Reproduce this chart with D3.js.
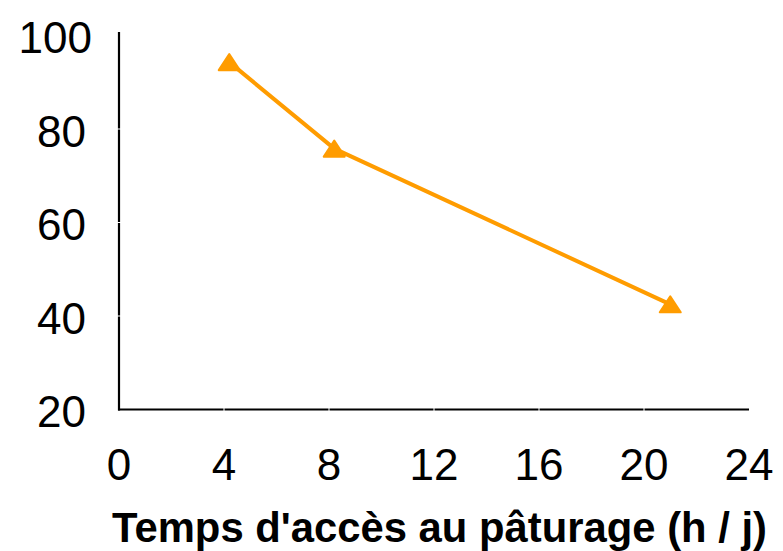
<!DOCTYPE html>
<html>
<head>
<meta charset="utf-8">
<script src="https://cdn.jsdelivr.net/npm/d3@7"></script>
<style>
  html, body { margin: 0; padding: 0; background: #fff; }
  svg { display: block; }
  text { font-family: "Liberation Sans", Arial, sans-serif; fill: #000; }
</style>
</head>
<body>
<svg id="chart" width="783" height="551"></svg>
<script>
// ---- data ----
const xValues = [4.2, 8.2, 21];
const yValues = [94.3, 75.8, 42.5];
const xTicks = [0, 4, 8, 12, 16, 20, 24];
const yTicks = [20, 40, 60, 80, 100];
const xTitle = "Temps d'accès au pâturage (h / j)";

const svg = d3.select("#chart");
const x = d3.scaleLinear().domain([0, 24]).range([119, 749]);
const y = d3.scaleLinear().domain([20, 100]).range([409.5, 35.5]);
const orange = "#FF9C00";

// axes lines
svg.append("line").attr("x1", x(0)).attr("x2", x(0))
  .attr("y1", 32).attr("y2", y(20) + 1)
  .attr("stroke", "#000").attr("stroke-width", 2.2);
svg.append("line").attr("x1", x(0) - 1).attr("x2", x(24))
  .attr("y1", y(20)).attr("y2", y(20))
  .attr("stroke", "#000").attr("stroke-width", 2.2);

// white tick notches
svg.append("g").selectAll("line").data(xTicks.filter(d => d > 0 && d < 24)).join("line")
  .attr("x1", d => x(d)).attr("x2", d => x(d))
  .attr("y1", y(20) - 2).attr("y2", y(20) + 2)
  .attr("stroke", "#fff").attr("stroke-width", 1);
svg.append("g").selectAll("line").data(yTicks.filter(d => d > 20 && d < 100)).join("line")
  .attr("x1", x(0) - 2).attr("x2", x(0) + 2)
  .attr("y1", d => y(d)).attr("y2", d => y(d))
  .attr("stroke", "#fff").attr("stroke-width", 1);

// tick labels
svg.append("g").selectAll("text").data(xTicks).join("text")
  .attr("x", d => x(d)).attr("y", 480)
  .attr("text-anchor", "middle")
  .attr("font-size", 44)
  .text(d => d);
svg.append("g").selectAll("text").data(yTicks).join("text")
  .attr("x", d => d === 100 ? 92 : 86)
  .attr("y", d => y(d) + 17.5)
  .attr("text-anchor", "end")
  .attr("font-size", 44)
  .text(d => d);

// axis title
svg.append("text").attr("x", 112).attr("y", 542)
  .attr("font-size", 42).attr("font-weight", "bold")
  .attr("textLength", 655).attr("lengthAdjust", "spacingAndGlyphs")
  .text(xTitle);

// line
const pts = xValues.map((d, i) => [d, yValues[i]]);
svg.append("path")
  .attr("d", d3.line().x(d => x(d[0])).y(d => y(d[1]))(pts))
  .attr("fill", "none").attr("stroke", orange)
  .attr("stroke-width", 4).attr("stroke-linejoin", "round");

// triangle markers
const tri = "M0,-8 L10.5,8 L-10.5,8 Z";
svg.append("g").selectAll("path").data(pts).join("path")
  .attr("transform", d => `translate(${x(d[0])},${y(d[1])})`)
  .attr("d", tri)
  .attr("fill", orange).attr("stroke", orange)
  .attr("stroke-width", 2).attr("stroke-linejoin", "round");
</script>
</body>
</html>
